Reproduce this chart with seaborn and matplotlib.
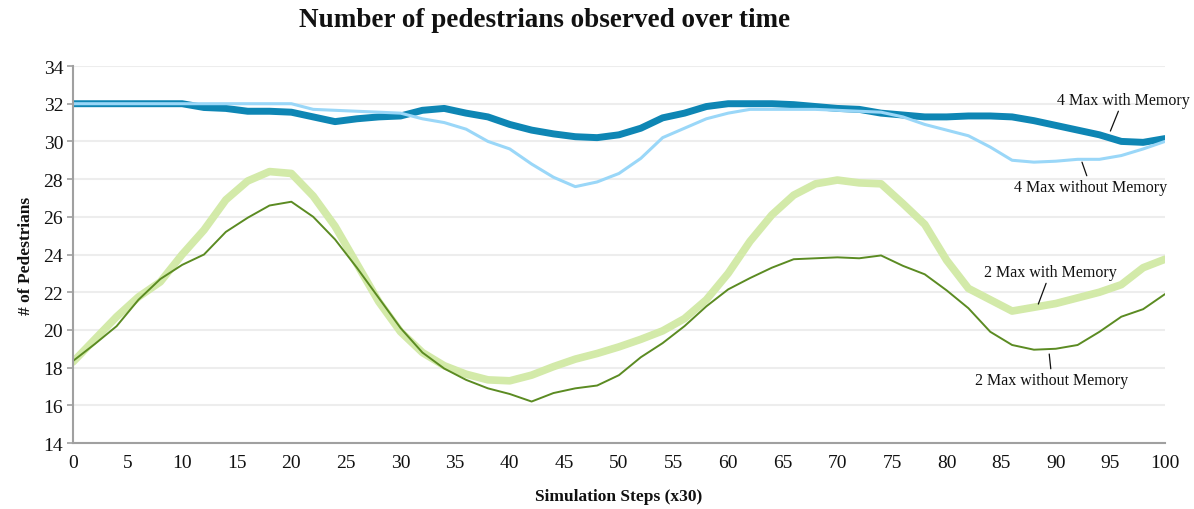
import matplotlib
matplotlib.use("Agg")
import matplotlib.pyplot as plt
import numpy as np
import seaborn as sns

# simulation steps (x30), read every 2 steps
steps = list(range(0, 101, 2))

four_max_mem = [32.0, 32.0, 32.0, 32.0, 32.0, 32.0, 31.8, 31.75, 31.6, 31.6,
                31.55, 31.3, 31.05, 31.2, 31.3, 31.35, 31.65, 31.75, 31.5, 31.3,
                30.9, 30.6, 30.4, 30.25, 30.2, 30.35, 30.7, 31.25, 31.5, 31.85,
                32.0, 32.0, 32.0, 31.95, 31.85, 31.75, 31.7, 31.5, 31.4, 31.3,
                31.3, 31.35, 31.35, 31.3, 31.1, 30.85, 30.6, 30.35, 30.0, 29.95,
                30.15]
four_max_nomem = [32.0, 32.0, 32.0, 32.0, 32.0, 32.0, 32.0, 32.0, 32.0, 32.0,
                  32.0, 31.7, 31.65, 31.6, 31.55, 31.5, 31.2, 31.0, 30.65, 30.0,
                  29.6, 28.8, 28.1, 27.6, 27.85, 28.3, 29.1, 30.2, 30.7, 31.2,
                  31.5, 31.7, 31.7, 31.7, 31.7, 31.65, 31.6, 31.55, 31.3, 30.9,
                  30.6, 30.3, 29.7, 29.0, 28.9, 28.95, 29.05, 29.05, 29.25, 29.6,
                  30.0]
two_max_mem = [18.3, 19.5, 20.7, 21.75, 22.55, 24.0, 25.3, 26.9, 27.9, 28.4,
               28.3, 27.1, 25.5, 23.5, 21.5, 19.9, 18.8, 18.1, 17.65, 17.35,
               17.3, 17.6, 18.05, 18.45, 18.75, 19.1, 19.5, 19.95, 20.6, 21.6,
               23.0, 24.7, 26.1, 27.15, 27.75, 27.95, 27.8, 27.75, 26.7, 25.6,
               23.7, 22.2, 21.6, 21.0, 21.2, 21.4, 21.7, 22.0, 22.4, 23.3,
               23.75]
two_max_nomem = [18.35, 19.25, 20.2, 21.6, 22.7, 23.45, 24.0, 25.2, 25.95, 26.6,
                 26.8, 26.0, 24.8, 23.3, 21.7, 20.1, 18.8, 17.95, 17.35, 16.9,
                 16.6, 16.2, 16.65, 16.9, 17.05, 17.6, 18.55, 19.3, 20.2, 21.25,
                 22.15, 22.75, 23.3, 23.75, 23.8, 23.85, 23.8, 23.95, 23.4, 22.95,
                 22.1, 21.15, 19.9, 19.2, 18.95, 19.0, 19.2, 19.9, 20.7, 21.1,
                 21.9]

labels = ["4 Max with Memory", "4 Max without Memory",
          "2 Max with Memory", "2 Max without Memory"]
# label anchor (on line) and text centre, in data units
label_xy = [(95.0, 30.55), (92.4, 28.9), (88.4, 21.37), (89.4, 18.72)]
label_text = [(96.15, 32.2), (93.2, 27.58), (89.5, 23.07), (89.65, 17.34)]

sns.set_style("white")
plt.rcParams["font.family"] = ["Liberation Serif", "DejaVu Serif"]
plt.rcParams["text.color"] = "#111111"
plt.rcParams["xtick.color"] = "#111111"
plt.rcParams["ytick.color"] = "#111111"
plt.rcParams["axes.labelcolor"] = "#111111"

fig = plt.figure(figsize=(11.94, 5.10), dpi=100)
ax = fig.add_axes([0.0611, 0.1294, 0.9146, 0.7392])

line_kw = dict(ax=ax, solid_joinstyle="round", solid_capstyle="round")
sns.lineplot(x=steps, y=four_max_mem, color="#0E86B4", linewidth=5.0, **line_kw)
sns.lineplot(x=steps, y=four_max_nomem, color="#9AD7F8", linewidth=2.2, **line_kw)
sns.lineplot(x=steps, y=two_max_mem, color="#D3EAA9", linewidth=5.5, **line_kw)
sns.lineplot(x=steps, y=two_max_nomem, color="#5B8B22", linewidth=1.4, **line_kw)

for lab, xy, xt in zip(labels, label_xy, label_text):
    ax.annotate(lab, xy=xy, xytext=xt, ha="center", va="center", fontsize=11.5,
                color="#111111", annotation_clip=False,
                arrowprops=dict(arrowstyle="-", color="#111111", lw=0.9,
                                shrinkA=0, shrinkB=0))

ax.set_xlim(0, 100)
ax.set_ylim(14, 34)
ax.set_xticks(range(0, 101, 5))
ax.set_yticks(range(14, 35, 2))
ax.yaxis.grid(True, color="#EDEDED", linewidth=1.5)
ax.set_axisbelow(True)
for side in ["top", "right"]:
    ax.spines[side].set_visible(False)
for side in ["left", "bottom"]:
    ax.spines[side].set_color("#A0A0A0")
    ax.spines[side].set_linewidth(1.5)
ax.tick_params(axis="y", which="major", length=4, width=1.2, color="#A0A0A0",
               labelcolor="#111111", left=True, labelsize=14, pad=3)
ax.tick_params(axis="x", which="major", length=0, labelcolor="#111111",
               labelsize=14, pad=8)

ax.set_xlabel("Simulation Steps (x30)", fontsize=12.5, fontweight="bold", labelpad=12)
ax.set_ylabel("# of Pedestrians", fontsize=12.5, fontweight="bold", labelpad=7)
fig.suptitle("Number of pedestrians observed over time", x=0.4565, y=0.985,
             fontsize=19.5, fontweight="bold")

fig.savefig("out.png", dpi=100)
